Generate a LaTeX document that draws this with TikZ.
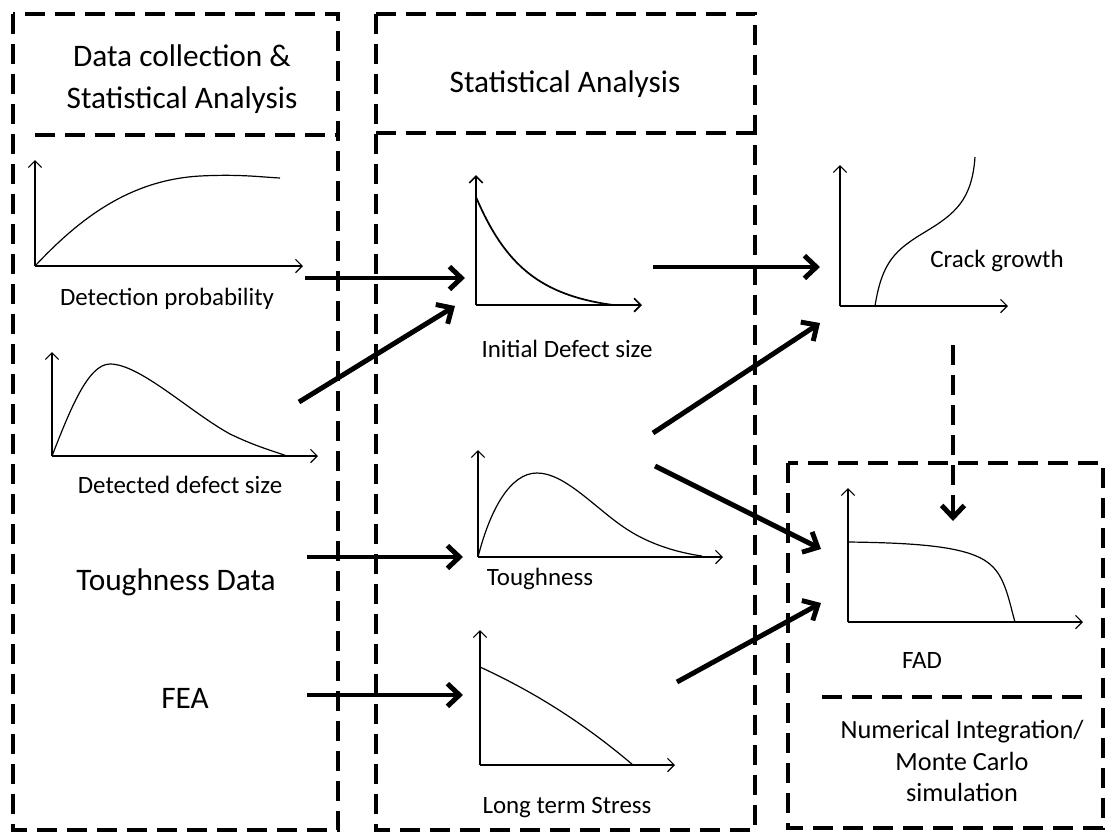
\documentclass[tikz,border=0pt]{standalone}
\usepackage{fontspec}
\setmainfont{Carlito}
\usetikzlibrary{arrows.meta}

\tikzset{
  box/.style={line width=3.3pt, dash pattern=on 15pt off 7.5pt},
  axis/.style={line width=0.9pt, -{Straight Barb[length=5pt,width=10pt]}},
  curve/.style={line width=0.9pt},
  bigarrow/.style={line width=3.7pt, -{Straight Barb[length=9pt,width=17pt]}},
  bigtext/.style={font=\fontsize{23.5}{32}\selectfont},
  smalltext/.style={font=\fontsize{18.7}{23}\selectfont},
}

\begin{document}
\begin{tikzpicture}[x=0.75pt,y=-0.75pt]
\useasboundingbox (0,0) rectangle (1108,833);
%\draw (0,0) grid[step=50] (1108,833);

% dashed frames
\draw[box] (13,14) rectangle (338,830);
\draw[box] (35,135) -- (338,135);
\draw[box] (376,14) rectangle (755,830);
\draw[box] (376,133) -- (755,133);
\draw[box] (788,463) rectangle (1103,828);
\draw[box] (822,697) -- (1092,697);

\node[bigtext,align=center] (collect) at (182,79) {Data collection \&\\Statistical Analysis};
\node[bigtext,anchor=base] (stats) at (565,92) {Statistical Analysis};
\node[smalltext,font=\fontsize{19.7}{23.5}\selectfont,align=center] (numint) at (962,761)
  {Numerical Integration/\\Monte Carlo\\simulation};

% detection probability
\draw[axis] (35,266) -- (35,160);
\draw[axis] (35,266) -- (303,266);
\draw[curve] (35,266) .. controls (80,218) and (130,180) .. (200,176)
  .. controls (240,174) and (260,177) .. (280,178);
\node[smalltext,anchor=base] (detprob) at (167,305) {Detection probability};

% detected defect size
\draw[axis] (52,456) -- (52,352);
\draw[axis] (52,456) -- (318,456);
\draw[curve] (52,456) .. controls (70,410) and (88,364) .. (110,364)
  .. controls (140,364) and (190,412) .. (230,434)
  .. controls (255,446) and (270,450) .. (287,456);
\node[smalltext,anchor=base] (detdef) at (180,493) {Detected defect size};

\node[bigtext,anchor=base] (toughdata) at (176,590) {Toughness Data};
\node[bigtext,anchor=base] (fea) at (185,708) {FEA};

% initial defect size
\draw[axis,line width=1.3pt] (476,305) -- (476,175);
\draw[axis,line width=1.3pt] (476,305) -- (642,305);
\draw[curve,line width=1.3pt] (476,197) .. controls (505,265) and (540,295) .. (613,305);
\node[smalltext,anchor=base] (idefect) at (567,357) {Initial Defect size};

% toughness
\draw[axis] (478,557) -- (478,450);
\draw[axis] (478,557) -- (723,557);
\draw[curve] (478,557) .. controls (490,510) and (510,473) .. (537,473)
  .. controls (565,473) and (595,508) .. (625,528)
  .. controls (650,545) and (680,553) .. (702,556);
\node[smalltext,anchor=base] (tough) at (540,585) {Toughness};

% long term stress
\draw[axis] (480,765) -- (480,630);
\draw[axis] (480,765) -- (675,765);
\draw[curve] (480,667) .. controls (530,690) and (580,720) .. (633,765);
\node[smalltext,anchor=base] (stress) at (567,813) {Long term Stress};

% crack growth
\draw[axis] (840,306) -- (840,165);
\draw[axis] (840,306) -- (1008,306);
\draw[curve] (875,306) .. controls (882,262) and (895,250) .. (925,232)
  .. controls (955,214) and (972,200) .. (975,157);
\node[smalltext,anchor=base] (crack) at (997,267) {Crack growth};

% FAD
\draw[axis] (848,622) -- (848,488);
\draw[axis] (848,622) -- (1083,622);
\draw[curve] (848,542) .. controls (930,543) and (975,548) .. (993,567)
  .. controls (1006,580) and (1010,605) .. (1015,622);
\node[smalltext,anchor=base] (fad) at (922,668) {FAD};

% arrow ends
\coordinate (detprob-out) at (305,278);
\coordinate (idefect-in) at (465,278);
\coordinate (detdef-out) at (299,402);
\coordinate (idefect-in2) at (455,306);
\coordinate (idefect-out) at (653,267);
\coordinate (crack-in) at (820,267);
\coordinate (idefect-out2) at (653,433);
\coordinate (crack-in2) at (820,323);
\coordinate (tough-out) at (655,466);
\coordinate (fad-in) at (821,549);
\coordinate (stress-out) at (677,682);
\coordinate (fad-in2) at (821,603);
\coordinate (toughdata-out) at (307,557);
\coordinate (tough-in) at (463,557);
\coordinate (fea-out) at (307,695);
\coordinate (stress-in) at (463,695);
\coordinate (crack-out) at (953,345);
\coordinate (fad-top) at (953,521);

\draw[bigarrow] (detprob-out) -- (idefect-in);
\draw[bigarrow] (detdef-out) -- (idefect-in2);
\draw[bigarrow] (idefect-out) -- (crack-in);
\draw[bigarrow] (idefect-out2) -- (crack-in2);
\draw[bigarrow] (tough-out) -- (fad-in);
\draw[bigarrow] (stress-out) -- (fad-in2);
\draw[bigarrow] (toughdata-out) -- (tough-in);
\draw[bigarrow] (fea-out) -- (stress-in);
\draw[bigarrow,dash pattern=on 15pt off 7.5pt] (crack-out) -- (fad-top);
\end{tikzpicture}
\end{document}
